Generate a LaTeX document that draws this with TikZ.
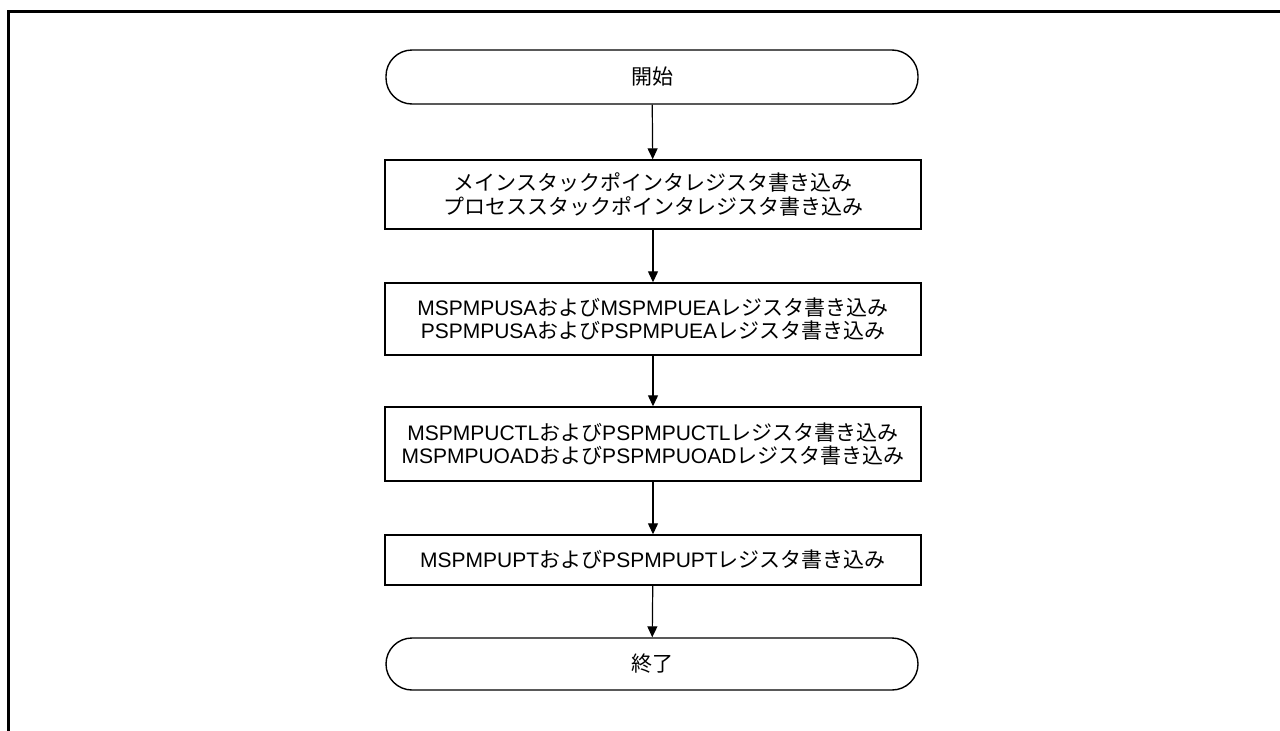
\documentclass[tikz,border=0pt]{standalone}
\usepackage{fontspec}
\setmainfont{Liberation Sans}
\newfontfamily\jpf{Noto Sans CJK JP}
\newcommand{\jp}[1]{{\jpf #1}}
\usetikzlibrary{arrows.meta}
\begin{document}
\begin{tikzpicture}[x=1pt,y=-1pt,
  frameline/.style={line width=3pt},
  term/.style={draw,line width=1.4pt,rounded corners=26pt,minimum width=532pt,inner sep=0pt,font=\fontsize{21}{23.5}\selectfont},
  procbox/.style={draw,line width=1.4pt,minimum width=536pt,inner sep=0pt,align=center,font=\fontsize{21}{23.5}\selectfont},
  flow/.style={line width=1.2pt,-{Triangle[length=11pt,width=10pt]}}]
\useasboundingbox (0,0) rectangle (1280,731);
\draw[frameline] (1281,11) -- (8,11) -- (8,732);
\node[term,minimum height=54pt] (start) at (652,77) {\jp{開始}};
\node[procbox,minimum height=69pt] (b1) at (653,194.5) {\jp{メインスタックポインタレジスタ書き込み}\\\jp{プロセススタックポインタレジスタ書き込み}};
\node[procbox,minimum height=72pt] (b2) at (653,319) {MSPMPUSA\jp{および}MSPMPUEA\jp{レジスタ書き込み}\\PSPMPUSA\jp{および}PSPMPUEA\jp{レジスタ書き込み}};
\node[procbox,minimum height=74pt] (b3) at (653,444) {MSPMPUCTL\jp{および}PSPMPUCTL\jp{レジスタ書き込み}\\MSPMPUOAD\jp{および}PSPMPUOAD\jp{レジスタ書き込み}};
\node[procbox,minimum height=50pt] (b4) at (653,560) {MSPMPUPT\jp{および}PSPMPUPT\jp{レジスタ書き込み}};
\node[term,minimum height=52pt] (stop) at (652,664) {\jp{終了}};
\draw[flow] (start) -- (b1);
\draw[flow] (b1) -- (b2);
\draw[flow] (b2) -- (b3);
\draw[flow] (b3) -- (b4);
\draw[flow] (b4) -- (stop);
\end{tikzpicture}
\end{document}
